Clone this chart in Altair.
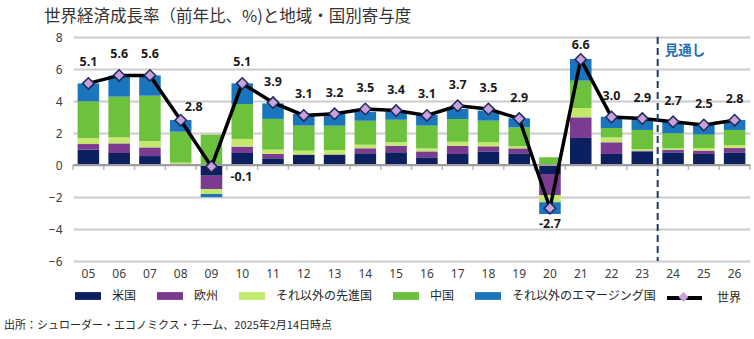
import altair as alt
import pandas as pd

YEARS = ["05", "06", "07", "08", "09", "10", "11", "12", "13", "14", "15",
         "16", "17", "18", "19", "20", "21", "22", "23", "24", "25", "26"]
US = [0.96, 0.75, 0.56, 0.0, -0.67, 0.75, 0.42, 0.65, 0.65, 0.73, 0.79,
      0.48, 0.69, 0.85, 0.73, -0.56, 1.69, 0.69, 0.85, 0.79, 0.69, 0.79]
EU = [0.35, 0.60, 0.54, 0.05, -0.83, 0.40, 0.27, 0.0, 0.0, 0.31, 0.42,
      0.37, 0.52, 0.32, 0.31, -1.32, 1.29, 0.73, 0.05, 0.15, 0.21, 0.27]
OA = [0.38, 0.38, 0.38, 0.10, -0.31, 0.48, 0.27, 0.25, 0.29, 0.23, 0.21,
      0.19, 0.25, 0.25, 0.13, -0.45, 0.58, 0.31, 0.10, 0.10, 0.16, 0.19]
CN = [2.29, 2.54, 2.85, 1.93, 1.90, 2.18, 1.92, 1.56, 1.52, 1.50, 1.41,
      1.42, 1.42, 1.35, 1.18, 0.48, 1.71, 0.58, 1.19, 0.94, 0.84, 0.94]
EM = [1.12, 1.31, 1.27, 0.73, -0.20, 1.29, 0.97, 0.73, 0.73, 0.56, 0.50,
      0.67, 0.62, 0.63, 0.57, -0.73, 1.36, 0.71, 0.73, 0.75, 0.62, 0.62]
WORLD = [5.1, 5.6, 5.6, 2.8, -0.1, 5.1, 3.9, 3.1, 3.2, 3.5, 3.4,
         3.1, 3.7, 3.5, 2.9, -2.7, 6.6, 3.0, 2.9, 2.7, 2.5, 2.8]
SERIES = ["米国", "欧州", "それ以外の先進国", "中国", "それ以外のエマージング国"]
COLORS = ["#0c1f5e", "#7b3b91", "#c4e86e", "#6cc13d", "#1b75bc"]
WORLD_NAME = "世界"
TITLE = "世界経済成長率（前年比、%)と地域・国別寄与度"
SOURCE = "出所：シュローダー・エコノミクス・チーム、2025年2月14日時点"
FORECAST = "見通し"
FORECAST_START = "24"
Y_TICKS = [-6, -4, -2, 0, 2, 4, 6, 8]

JP = "Noto Sans CJK JP"
NUM = "Noto Sans"

rows = []
for i, yr in enumerate(YEARS):
    for j, (name, vals) in enumerate(zip(SERIES, [US, EU, OA, CN, EM])):
        rows.append({"year": yr, "series": name, "idx": j, "value": vals[i]})
bars_df = pd.DataFrame(rows)
world_df = pd.DataFrame({
    "year": YEARS,
    "value": WORLD,
    "label": [f"{v:.1f}" for v in WORLD],
    "s": WORLD_NAME,
    "w": "w",
})

W, H = 677, 224
PAD_IN = 0.3
YDOM = [Y_TICKS[0], Y_TICKS[-1]]
xscale = alt.Scale(domain=YEARS, paddingInner=PAD_IN, paddingOuter=PAD_IN / 2)
yscale = alt.Scale(domain=YDOM, nice=False, zero=False)
step = W / len(YEARS)
bandw = step * (1 - PAD_IN)
gap = step * PAD_IN / 2

xaxis = alt.Axis(orient="bottom", labels=True, domain=False, ticks=False,
                 grid=False, labelPadding=7, labelFontSize=12, labelFont=NUM,
                 labelColor="#404040", labelAngle=0, title=None)
yaxis = alt.Axis(values=Y_TICKS, grid=True, gridColor="#cccccc",
                 gridWidth=2, domain=False, ticks=False, labelPadding=11,
                 labelFontSize=12, labelColor="#404040", labelFont=NUM, title=None,
                 labelOverlap=False, labelBound=False)


def X(**kw):
    return alt.X("year:N", scale=xscale, axis=xaxis, **kw)


def Y(field, **kw):
    return alt.Y(field, scale=yscale, axis=yaxis, **kw)


bars = alt.Chart(bars_df).mark_bar().encode(
    x=X(),
    y=Y("value:Q", stack="zero"),
    color=alt.Color("series:N", scale=alt.Scale(domain=SERIES, range=COLORS),
                    legend=alt.Legend(orient="none", legendX=2, legendY=246,
                                      direction="horizontal", columns=5, title=None,
                                      symbolType="M-1,-0.3H1V0.3H-1Z", symbolSize=676,
                                      symbolStrokeWidth=0, labelFontSize=12, labelFont=JP,
                                      labelColor="#262626", labelOffset=11,
                                      columnPadding=20, padding=0, labelLimit=300)),
    order=alt.Order("idx:Q", sort="ascending"),
)

zero_df = pd.DataFrame({"value": [0]})
zero_line = alt.Chart(zero_df).mark_rule(color="#9e9e9e", strokeWidth=2).encode(
    y=Y("value:Q"),
)
tick_df = pd.DataFrame({"year": YEARS, "value": 0})
ticks = alt.Chart(tick_df).mark_tick(orient="vertical", size=5, thickness=1.5,
                                     color="#9e9e9e", yOffset=2.5, xOffset=-gap).encode(
    x=X(bandPosition=0),
    y=Y("value:Q"),
)
end_tick = alt.Chart(tick_df).transform_filter(f"datum.year == '{YEARS[-1]}'").mark_tick(
    orient="vertical", size=5, thickness=1.5, color="#9e9e9e", yOffset=2.5,
    xOffset=bandw + gap).encode(
    x=X(bandPosition=0),
    y=Y("value:Q"),
)

line = alt.Chart(world_df).mark_line(strokeWidth=3.5).encode(
    x=X(),
    y=Y("value:Q"),
    stroke=alt.Stroke("s:N", scale=alt.Scale(domain=[WORLD_NAME], range=["#000000"]),
                      legend=alt.Legend(orient="none", legendX=592, legendY=241.5,
                                        title=None, symbolType="stroke", symbolSize=1225,
                                        symbolStrokeWidth=4, symbolStrokeColor="#000000",
                                        labelOffset=13, labelFontSize=12, labelFont=JP,
                                        labelColor="#262626", padding=0)),
)

points = alt.Chart(world_df).mark_point(filled=True, fill="#c9a2dc", stroke="#1f2a5c",
                                        strokeWidth=1.5, size=130, opacity=1).encode(
    x=X(),
    y=Y("value:Q"),
    shape=alt.Shape("w:N", scale=alt.Scale(domain=["w"], range=["diamond"]),
                    legend=alt.Legend(orient="none", legendX=604.5, legendY=254,
                                      title=None, symbolSize=100,
                                      symbolFillColor="#c9a2dc", symbolStrokeColor="#1f2a5c",
                                      symbolStrokeWidth=1.2, labelExpr="''", padding=0)),
)


def labels(filter_expr, dx=0, dy=-21):
    return alt.Chart(world_df).transform_filter(filter_expr).mark_text(
        font=NUM, fontSize=12.5, fontWeight="bold", color="#1a1a1a",
        baseline="middle", align="center", dx=dx, dy=dy).encode(
        x=X(),
        y=Y("value:Q"),
        text="label:N",
    )


lab_main = labels("indexof(['08','09','20','21'], datum.year) < 0")
lab_08 = labels("datum.year == '08'", dx=13, dy=-13)
lab_09 = labels("datum.year == '09'", dx=30, dy=10)
lab_20 = labels("datum.year == '20'", dy=16)
lab_21 = labels("datum.year == '21'", dy=-14)

fc_df = pd.DataFrame({"year": [FORECAST_START], "value": [YDOM[1]], "bot": [YDOM[0]],
                      "t": [FORECAST]})
rule = alt.Chart(fc_df).mark_rule(color="#1f3864", strokeWidth=2, strokeDash=[7, 4],
                                  xOffset=-gap).encode(
    x=X(bandPosition=0),
    y=Y("value:Q"),
    y2="bot:Q",
)
fc_text = alt.Chart(fc_df).mark_text(font=JP, fontSize=13.5, fontWeight="bold",
                                     color="#1f6eb3", align="left", baseline="middle",
                                     dx=-gap + 7, dy=13.5).encode(
    x=X(bandPosition=0),
    y=Y("value:Q"),
    text="t:N",
)

src = alt.Chart(pd.DataFrame({"t": [SOURCE]})).mark_text(
    font=JP, fontSize=11, color="#262626", align="left", baseline="middle").encode(
    x=alt.value(-69), y=alt.value(289), text="t:N")

chart = alt.layer(bars, zero_line, ticks, end_tick, line, rule, fc_text, points,
                  lab_main, lab_08, lab_09, lab_20, lab_21, src).properties(
    width=W, height=H,
    background="white",
    title=alt.TitleParams(TITLE, anchor="start", frame="group", offset=6, dx=-29,
                          fontSize=16.5, font=JP, fontWeight="normal", color="#333333"),
    autosize=alt.AutoSizeParams(type="none"),
    padding={"left": 73, "top": 37, "right": 4, "bottom": 78},
).configure_view(strokeWidth=0)

chart.save("out.html", embed_options={"renderer": "svg", "actions": False})
